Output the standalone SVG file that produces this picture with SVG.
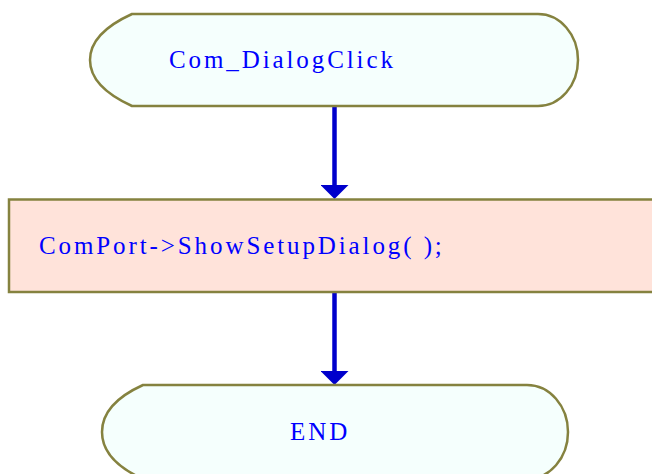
<svg xmlns="http://www.w3.org/2000/svg" width="652" height="474" viewBox="0 0 652 474">
  <style>
    .terminal { fill: #F5FFFD; stroke: #85823F; stroke-width: 2.5; }
    .process { fill: #FFE3DA; stroke: #85823F; stroke-width: 2.5; }
    .label { font-family: "Liberation Serif", "Times New Roman", serif; font-size: 25px; letter-spacing: 2.9px; fill: #0000FF; }
    .flow { stroke: #0000CC; stroke-width: 4.5; fill: none; marker-end: url(#arrow); }
  </style>
  <defs>
    <marker id="arrow" markerUnits="userSpaceOnUse" markerWidth="14" markerHeight="28" viewBox="0 0 14 28" refX="5" refY="14" orient="auto">
      <path d="M0,0 L14,14 L0,28 Z" fill="#0000CC"/>
    </marker>
  </defs>

  <rect width="652" height="474" fill="#FFFFFF"/>

  <g id="connectors">
    <path class="flow" d="M334.5,106 V190"/>
    <path class="flow" d="M334.5,292 V376"/>
  </g>

  <g id="start">
    <path class="terminal" d="M132,14 H538 A40,46 0 0 1 538,106 H132 C110,96 90,82 90,60 C90,38 110,24 132,14 Z"/>
    <text class="label" x="169" y="68">Com_DialogClick</text>
  </g>

  <g id="show-setup">
    <rect class="process" x="9" y="199.5" width="700" height="92.5"/>
    <text class="label" x="39" y="254">ComPort-&gt;ShowSetupDialog( );</text>
  </g>

  <g id="end">
    <path class="terminal" d="M143,385 H527 A41,47 0 0 1 527,479 H143 C121,469 102,455 102,432 C102,409 121,395 143,385 Z"/>
    <text class="label" x="290" y="440">END</text>
  </g>
</svg>
